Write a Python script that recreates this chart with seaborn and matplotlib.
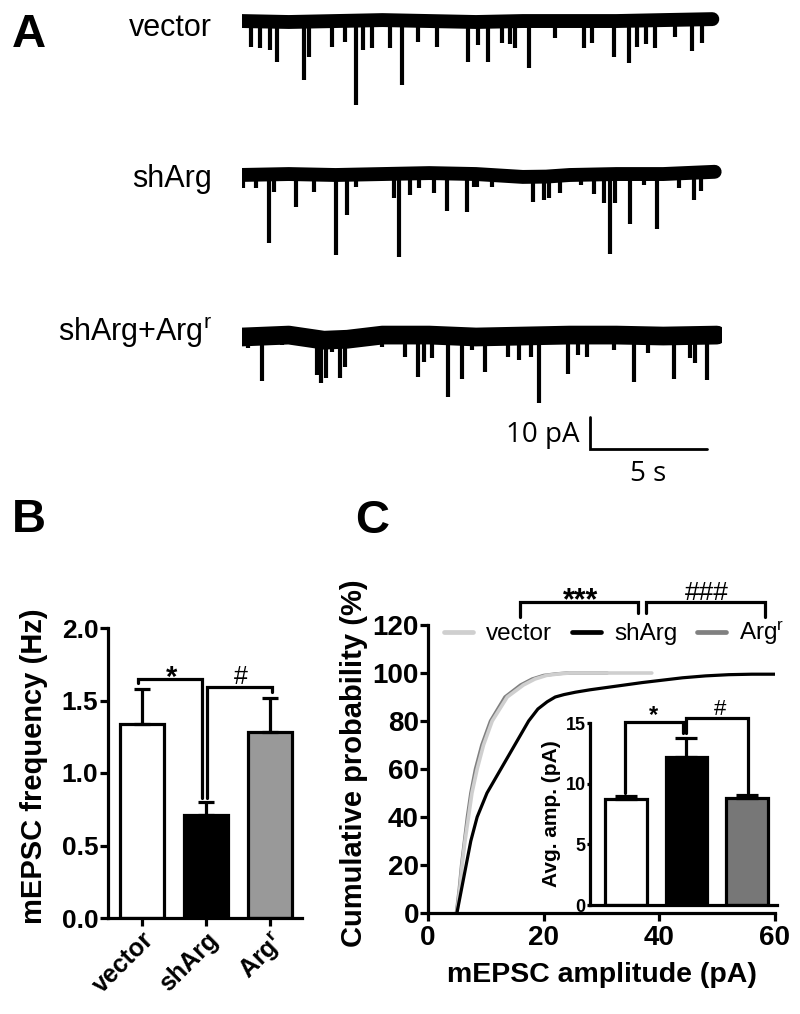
import numpy as np
import pandas as pd
import matplotlib
matplotlib.use("Agg")
import matplotlib.pyplot as plt
from matplotlib.lines import Line2D
import seaborn as sns

sns.set_theme(style="ticks")
plt.rcParams["font.family"] = ["Liberation Sans", "DejaVu Sans"]
plt.rcParams["mathtext.fontset"] = "custom"
plt.rcParams["mathtext.rm"] = "Liberation Sans"
plt.rcParams["mathtext.bf"] = "Liberation Sans:bold"
plt.rcParams["mathtext.it"] = "Liberation Sans:italic"
for k in ["text.color", "axes.labelcolor", "xtick.color", "ytick.color", "axes.edgecolor"]:
    plt.rcParams[k] = "black"

# ---------------- data ----------------
# Panel A: mEPSC events (time s, amplitude pA) and baseline drift
vec_t = [0.38, 0.77, 1.20, 1.50, 2.65, 2.86, 3.85, 4.40, 4.87, 5.17, 5.56, 6.32, 6.84, 7.52, 8.33, 9.66,
         10.09, 10.51, 11.11, 11.45, 11.67, 12.26, 13.38, 14.62, 14.96, 15.90, 16.54, 16.88, 17.26,
         17.65, 18.50, 19.23, 19.66]
vec_a = [7.8, 8.1, 8.8, 12.5, 18.1, 10.9, 7.8, 6.3, 25.9, 8.8, 8.1, 8.1, 19.7, 6.3, 7.8, 12.5,
         7.2, 12.5, 6.6, 6.9, 8.1, 14.4, 5.0, 8.1, 6.6, 10.9, 12.8, 7.8, 6.9,
         8.1, 4.7, 9.1, 6.6]
vec_base_t = [0, 2, 4, 6, 8, 10, 12, 14, 16, 18, 20.1]
vec_base_v = [0.3, 0.0, 0.3, 0.6, 0.3, 0.0, 0.3, 0.3, 0.3, 0.6, 0.9]

sh_t = [0.05, 0.60, 1.15, 1.37, 2.31, 3.08, 4.02, 4.49, 4.87, 6.50, 6.71, 7.18, 7.56, 8.21, 8.76, 9.62,
        9.91, 10.04, 10.68, 12.44, 12.91, 13.12, 13.59, 14.49, 15.04, 15.47, 15.73, 15.94, 16.58,
        17.18, 17.74, 18.68, 19.32, 19.62]
sh_a = [4.1, 4.1, 21.3, 5.3, 10.0, 5.3, 25.0, 12.5, 3.8, 7.2, 25.6, 6.3, 4.1, 5.6, 11.3, 11.6,
        3.8, 3.8, 3.8, 8.4, 7.8, 7.2, 5.6, 3.1, 5.9, 8.8, 24.7, 8.8, 15.3,
        3.1, 16.9, 4.1, 7.8, 5.0]
sh_base_t = [-0.1, 2, 4, 6, 8, 10, 12, 13, 14, 16, 18, 20.2]
sh_base_v = [0.0, 0.3, 0.0, 0.3, 0.6, 0.3, -0.6, -0.5, 0.0, 0.3, 0.3, 1.0]

rsc_t = [0.26, 0.85, 1.71, 3.21, 3.38, 3.59, 3.85, 4.19, 4.40, 5.98, 6.97, 7.52, 7.78, 8.12, 8.80, 9.40,
         9.83, 10.38, 11.37, 11.84, 12.35, 12.69, 13.93, 14.36, 14.74, 15.90, 16.75, 17.35, 18.46,
         19.15, 19.36, 19.87]
rsc_a = [3.4, 13.8, 2.5, 11.9, 14.4, 12.8, 4.7, 12.8, 9.4, 3.1, 6.3, 12.5, 7.8, 6.6, 18.8, 13.1,
         4.1, 10.9, 6.3, 7.2, 6.3, 20.6, 11.6, 5.6, 6.3, 4.1, 14.1, 5.0, 13.1,
         6.6, 8.1, 13.4]
rsc_base_t = [0, 2, 3.5, 4.5, 6, 8, 10, 12, 14, 16, 18, 20.3]
rsc_base_v = [0.0, 0.6, -1.0, -0.7, 0.6, 0.6, 0.0, 0.3, 0.6, 0.6, 0.3, 0.6]

trace_names = ["vector", "shArg", r"shArg+Arg$^{\mathrm{r}}$"]

# Panel B: mEPSC frequency
groups_B = ["vector", "shArg", r"Arg$^{\mathbf{r}}$"]
freq_mean = [1.34, 0.71, 1.28]
freq_sem = [0.24, 0.09, 0.24]
freq_ticks = [0.0, 0.5, 1.0, 1.5, 2.0]

# Panel C: cumulative distributions
vec_amp = [5.0, 5.5, 5.9, 6.4, 7.0, 7.6, 8.5, 9.6, 11.1, 13.7, 16.5, 18.5, 20.5, 22.5, 24.5, 30.0, 38.7]
vec_cum = [0, 10, 20, 30, 40, 50, 60, 70, 80, 90, 95, 97.5, 99, 99.6, 100, 100, 100]
arg_amp = [4.9, 5.4, 5.8, 6.3, 6.8, 7.4, 8.2, 9.3, 10.8, 13.3, 16.0, 18.0, 20.0, 22.0, 24.0, 31.0]
arg_cum = [0, 10, 20, 30, 40, 50, 60, 70, 80, 90, 95, 97.5, 99, 99.6, 100, 100]
sh_amp = [5.0, 5.8, 6.6, 7.4, 8.5, 10.2, 12.6, 15.0, 17.4, 19.0, 20.6, 22.0, 23.5, 25.5, 28.0, 31.0,
          34.0, 37.0, 40.5, 44.0, 48.0, 52.0, 56.0, 60.0]
sh_cum = [0, 10, 20, 30, 40, 50, 60, 70, 80, 85, 88, 90, 91, 92, 93, 94,
          95, 96, 97, 98, 98.8, 99.3, 99.5, 99.5]
amp_ticks = [0, 20, 40, 60]
cum_ticks = [0, 20, 40, 60, 80, 100, 120]

# Inset: average amplitude
groups_I = ["vector", "shArg", "Argr"]
amp_mean = [8.7, 12.2, 8.8]
amp_sem = [0.3, 1.6, 0.3]
inset_ticks = [0, 5, 10, 15]

# ---------------- layout helpers ----------------
W, H = 800, 1014
fig = plt.figure(figsize=(W / 100, H / 100), dpi=100)


def box(l, t, r, b):
    return [l / W, 1 - b / H, (r - l) / W, (b - t) / H]


def fx(px):
    return px / W


def fy(py):
    return 1 - py / H


BLACK = "black"
LW = 2.3

# ---------------- Panel A ----------------
PX_S, PX_PA = 23.4, 3.2
axA = fig.add_axes(box(242, 0, 722, 470))
axA.set_xlim(0, 480 / PX_S)
axA.set_ylim(-470 / PX_PA, 0)
axA.set_axis_off()

traces = [
    (vec_t, vec_a, vec_base_t, vec_base_v, 22, 10.0),
    (sh_t, sh_a, sh_base_t, sh_base_v, 175, 10.0),
    (rsc_t, rsc_a, rsc_base_t, rsc_base_v, 337, 13.5),
]
for (t, a, bt, bv, base_px, blw) in traces:
    base = -base_px / PX_PA
    bdf = pd.DataFrame({"t": bt, "v": np.array(bv) + base})
    sns.lineplot(data=bdf, x="t", y="v", ax=axA, color=BLACK, lw=blw, sort=True,
                 estimator=None, solid_capstyle="round")
    axA.vlines(t, base, base - np.array(a), color=BLACK, lw=3.0)

# scale bar
sb_x0 = (590 - 242) / PX_S
sb_y0 = -449 / PX_PA
axA.plot([sb_x0, sb_x0, sb_x0 + 5], [sb_y0 + 10, sb_y0, sb_y0], color=BLACK, lw=2.0,
         solid_joinstyle="miter")
axA.text(sb_x0 - 0.45, sb_y0 + 4.5, "10 pA", ha="right", va="center", fontsize=20,
         family=["Open Sans", "DejaVu Sans"])
axA.text(sb_x0 + 2.5, sb_y0 - 3.5, "5 s", ha="center", va="top", fontsize=20,
         family=["Open Sans", "DejaVu Sans"])

for name, yb in zip(trace_names, [36, 187, 341]):
    fig.text(fx(212), fy(yb), name, ha="right", va="baseline", fontsize=22)

# panel letters
fig.text(fx(12), fy(47), "A", fontsize=34, weight="bold", va="baseline")
fig.text(fx(12), fy(532), "B", fontsize=34, weight="bold", va="baseline")
fig.text(fx(355), fy(533), "C", fontsize=34, weight="bold", va="baseline")


def style_axes(ax, tick_len=5, pad=1.5):
    sns.despine(ax=ax)
    for s in ["left", "bottom"]:
        ax.spines[s].set_linewidth(LW)
    ax.tick_params(width=LW, length=tick_len, pad=pad, direction="out")


# ---------------- Panel B ----------------
axB = fig.add_axes(box(108, 628, 302, 918))
dfB = pd.DataFrame({"group": groups_B, "freq": freq_mean})
sns.barplot(data=dfB, x="group", y="freq", hue="group", palette=["white", "black", "#999999"],
            edgecolor=BLACK, linewidth=LW, width=0.7, errorbar=None, legend=False, ax=axB)
axB.errorbar(x=[0, 1, 2], y=freq_mean, yerr=[[0, 0, 0], freq_sem], fmt="none", ecolor=BLACK,
             elinewidth=LW, capsize=5.5, capthick=LW, zorder=1)
axB.set_xlim(-0.53, 2.5)
axB.set_ylim(0, 2.0)
axB.set_yticks(freq_ticks, labels=["%.1f" % v for v in freq_ticks], fontsize=19, fontweight="bold")
axB.set_xticks([0, 1, 2], labels=groups_B, fontsize=18, fontweight="bold", rotation=45,
               ha="right", rotation_mode="anchor")
axB.set_xlabel("")
axB.set_ylabel("mEPSC frequency (Hz)", fontsize=21, weight="bold")
axB.yaxis.set_label_coords((48 - 108) / 194, 0.524)
style_axes(axB, tick_len=5.5, pad=1.5)

axB.plot([-0.06, -0.06, 0.94, 0.94], [1.62, 1.645, 1.645, 0.83], color=BLACK, lw=LW,
         clip_on=False, solid_joinstyle="miter")
axB.plot([1.02, 1.02, 2.03, 2.03], [0.83, 1.59, 1.59, 1.56], color=BLACK, lw=LW,
         clip_on=False, solid_joinstyle="miter")
axB.text(0.47, 1.60, "*", ha="center", va="baseline", fontsize=21, weight="bold")
axB.text(1.55, 1.615, "#", ha="center", va="baseline", fontsize=18)

# ---------------- Panel C ----------------
axC = fig.add_axes(box(428, 625, 775, 913))
curves = [
    (arg_amp, arg_cum, "#808080", 2.4),
    (vec_amp, vec_cum, "#cfcfcf", 2.6),
    (sh_amp, sh_cum, "black", 2.3),
]
for amp, cum, col, lw in curves:
    cdf = pd.DataFrame({"amp": amp, "cum": cum})
    sns.lineplot(data=cdf, x="amp", y="cum", ax=axC, color=col, lw=lw, estimator=None, sort=False)
axC.set_xlim(0, 60)
axC.set_ylim(0, 120)
axC.set_xticks(amp_ticks, labels=[str(v) for v in amp_ticks], fontsize=20, fontweight="bold")
axC.set_yticks(cum_ticks, labels=[str(v) for v in cum_ticks], fontsize=20, fontweight="bold")
axC.set_xlabel("mEPSC amplitude (pA)", fontsize=20.5, weight="bold")
axC.set_ylabel("Cumulative probability (%)", fontsize=21, weight="bold")
axC.yaxis.set_label_coords((368 - 428) / 347, 0.52)
axC.xaxis.set_label_coords(0.5, (913 - 962) / 288)
style_axes(axC, tick_len=5.5, pad=1)
axC.tick_params(axis="x", pad=3)

handles = [Line2D([], [], color="#cfcfcf", lw=3.4), Line2D([], [], color="black", lw=3.4),
           Line2D([], [], color="#808080", lw=3.4)]
axC.legend(handles, ["vector", "shArg", r"Arg$^{\mathrm{r}}$"], ncol=3, frameon=False,
           fontsize=17.5, loc="center left", bbox_to_anchor=(0.045, 0.972), borderpad=0,
           borderaxespad=0, handlelength=1.2, handletextpad=0.55, columnspacing=0.8)

axC.plot([15.9, 15.9, 36.3, 36.3], [123.3, 129.7, 129.7, 125.0], color=BLACK, lw=LW,
         clip_on=False, solid_joinstyle="miter")
axC.plot([37.7, 37.7, 58.3, 58.3], [125.0, 129.7, 129.7, 123.3], color=BLACK, lw=LW,
         clip_on=False, solid_joinstyle="miter")
axC.text(26.3, 126.4, "***", ha="center", va="baseline", fontsize=22, weight="bold")
axC.text(48.2, 130.6, "###", ha="center", va="baseline", fontsize=19)

# ---------------- Inset ----------------
axI = fig.add_axes(box(590, 723, 777, 905))
axI.patch.set_alpha(0)
dfI = pd.DataFrame({"group": groups_I, "amp": amp_mean})
sns.barplot(data=dfI, x="group", y="amp", hue="group", palette=["white", "black", "#777777"],
            edgecolor=BLACK, linewidth=LW, width=0.69, errorbar=None, legend=False, ax=axI)
axI.errorbar(x=[0, 1, 2], y=amp_mean, yerr=[[0, 0, 0], amp_sem], fmt="none", ecolor=BLACK,
             elinewidth=LW, capsize=8, capthick=LW, zorder=1)
axI.set_xlim(-0.595, 2.5)
axI.set_ylim(0, 15)
axI.set_yticks(inset_ticks, labels=[str(v) for v in inset_ticks], fontsize=13, fontweight="bold")
axI.set_xticks([])
axI.set_xlabel("")
axI.set_ylabel("Avg. amp. (pA)", fontsize=15, weight="bold")
axI.yaxis.set_label_coords((561 - 590) / 187, 0.5)
style_axes(axI, tick_len=2.5, pad=0.5)

axI.plot([-0.02, -0.02, 0.95, 0.95], [9.2, 15.1, 15.1, 14.2], color=BLACK, lw=LW,
         clip_on=False, solid_joinstyle="miter")
axI.plot([1.0, 1.0, 2.02, 2.02], [14.2, 15.4, 15.4, 9.25], color=BLACK, lw=LW,
         clip_on=False, solid_joinstyle="miter")
axI.text(0.45, 15.1, "*", ha="center", va="baseline", fontsize=17, weight="bold")
axI.text(1.55, 15.7, "#", ha="center", va="baseline", fontsize=16)

fig.savefig("out.png", dpi=100, facecolor="white")
